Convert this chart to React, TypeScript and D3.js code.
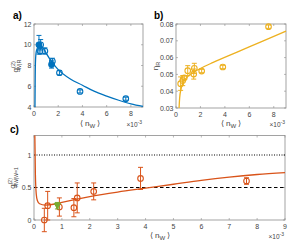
import React from "react";
import * as d3 from "d3";

// Panel a data: <n_W> (x1e-3), g2 W|R, error
const aX = [0.41, 0.55, 0.5, 0.9, 1.45, 1.52, 2.1, 3.8, 7.58];
const aY = [10.0, 10.0, 9.4, 9.4, 8.1, 8.4, 7.3, 5.5, 4.8];
const aE = [0.9, 0.5, 0.3, 0.3, 0.35, 0.3, 0.2, 0.15, 0.15];
const aFilled = [true, false, false, false, true, false, false, false, false];
const aCurveX = [0.08, 0.1, 0.13, 0.18, 0.25, 0.4, 0.55, 0.8, 1.0, 1.5, 2.0, 3.0, 4.0, 5.0, 6.0, 7.0, 8.0, 9.0];
const aCurveY = [4.0, 7.0, 8.6, 9.3, 9.6, 9.85, 9.9, 9.6, 9.2, 8.3, 7.6, 6.7, 6.1, 5.5, 5.05, 4.65, 4.3, 4.05];

// Panel b data: eta_R
const bX = [0.38, 0.55, 0.68, 0.96, 1.45, 1.5, 2.1, 3.83, 7.57];
const bY = [0.0445, 0.0463, 0.048, 0.0522, 0.0502, 0.0536, 0.052, 0.0544, 0.0784];
const bE = [0.004, 0.003, 0.001, 0.003, 0.003, 0.003, 0.001, 0.001, 0.001];
const bCurveX = [0.25, 0.3, 0.4, 0.5, 0.7, 1.0, 1.5, 2.0, 3.0, 5.0, 7.0, 9.0];
const bCurveY = [0.03, 0.036, 0.041, 0.0435, 0.0465, 0.049, 0.0515, 0.0535, 0.057, 0.0633, 0.0695, 0.0758];

// Panel c data: g2 RW|W=1
const cX = [0.37, 0.49, 0.91, 1.43, 1.55, 2.14, 3.82, 7.62];
const cY = [0.0, 0.22, 0.2, 0.19, 0.34, 0.44, 0.64, 0.6];
const cE = [0.18, 0.22, 0.14, 0.14, 0.23, 0.13, 0.17, 0.05];
const cGreenX = [0.84];
const cGreenY = [0.22];
const cGreenE = [0.05];
const cCurveX = [0.03, 0.05, 0.08, 0.12, 0.2, 0.4, 0.8, 1.0, 2.0, 3.0, 4.0, 5.0, 6.0, 7.0, 8.0, 9.0];
const cCurveY = [1.35, 0.7, 0.4, 0.3, 0.25, 0.23, 0.25, 0.27, 0.36, 0.43, 0.49, 0.55, 0.61, 0.66, 0.7, 0.73];

const aXTicks = [0, 2, 4, 6, 8];
const aYTicks = [4, 6, 8, 10, 12];
const bYTicks = [0.03, 0.04, 0.05, 0.06, 0.07, 0.08];
const cXTicks = [0, 1, 2, 3, 4, 5, 6, 7, 8, 9];
const cYTicks = [0, 0.5, 1];

const BLUE = "#0072BD";
const YELLOW = "#EDB120";
const ORANGE = "#D95319";
const GREEN = "#77AC30";
const AXC = "#8c8c8c";
const TXT = "#444";
const FONT = "Liberation Sans, Arial, sans-serif";

type AxesProps = {
  x: d3.ScaleLinear<number, number>;
  y: d3.ScaleLinear<number, number>;
  xTicks: number[];
  yTicks: number[];
  yFmt?: (v: number) => string;
};

function Axes({ x, y, xTicks, yTicks, yFmt }: AxesProps) {
  const [x0, x1] = x.range();
  const [y0, y1] = y.range();
  const tl = 2;
  const f = yFmt || ((v: number) => String(v));
  return (
    <g>
      <rect x={x0} y={y1} width={x1 - x0} height={y0 - y1} fill="none" stroke={AXC} strokeWidth={0.8} />
      {xTicks.map((t) => (
        <g key={"x" + t}>
          <line x1={x(t)} x2={x(t)} y1={y0} y2={y0 - tl} stroke={AXC} strokeWidth={0.6} />
          <line x1={x(t)} x2={x(t)} y1={y1} y2={y1 + tl} stroke={AXC} strokeWidth={0.6} />
          <text x={x(t)} y={y0 + 9} fontSize={7} fill={TXT} textAnchor="middle" fontFamily={FONT}>{t}</text>
        </g>
      ))}
      {yTicks.map((t) => (
        <g key={"y" + t}>
          <line x1={x0} x2={x0 + tl} y1={y(t)} y2={y(t)} stroke={AXC} strokeWidth={0.6} />
          <line x1={x1} x2={x1 - tl} y1={y(t)} y2={y(t)} stroke={AXC} strokeWidth={0.6} />
          <text x={x0 - 2.5} y={y(t) + 2.5} fontSize={7} fill={TXT} textAnchor="end" fontFamily={FONT}>{f(t)}</text>
        </g>
      ))}
    </g>
  );
}

function ErrPoints({ xs, ys, es, x, y, color, filled, marker }: any) {
  return (
    <g>
      {xs.map((xv: number, i: number) => {
        const cx = x(xv);
        const cy = y(ys[i]);
        const top = y(ys[i] + es[i]);
        const bot = y(ys[i] - es[i]);
        const isF = filled ? filled[i] : false;
        return (
          <g key={i} stroke={color} strokeWidth={1}>
            <line x1={cx} x2={cx} y1={top} y2={bot} />
            <line x1={cx - 2.5} x2={cx + 2.5} y1={top} y2={top} />
            <line x1={cx - 2.5} x2={cx + 2.5} y1={bot} y2={bot} />
            {marker === "tri" ? (
              <path d={`M${cx},${cy + 3.2} L${cx - 3.2},${cy - 2.4} L${cx + 3.2},${cy - 2.4} Z`} fill={color} />
            ) : (
              <circle cx={cx} cy={cy} r={2.8} fill={isF ? color : "none"} strokeWidth={1.1} />
            )}
          </g>
        );
      })}
    </g>
  );
}

function XLabel({ cx, cy, rx }: { cx: number; cy: number; rx: number }) {
  return (
    <g fontFamily={FONT} fill={TXT}>
      <text x={cx} y={cy} fontSize={8} textAnchor="middle">
        {"⟨ n"}
        <tspan fontSize={6} dy={2}>W</tspan>
        <tspan dy={-2}>{" ⟩"}</tspan>
      </text>
      <text x={rx} y={cy + 1} fontSize={6.5} textAnchor="end">
        {"×10"}
        <tspan fontSize={5} dy={-3}>-3</tspan>
      </text>
    </g>
  );
}

export default function App() {
  // Panel a
  const ax = d3.scaleLinear().domain([0, 9]).range([34, 143]);
  const ay = d3.scaleLinear().domain([4, 12]).range([107, 24]);
  const aPath = d3
    .line<number>()
    .x((d) => ax(aCurveX[d]))
    .y((d) => ay(aCurveY[d]))
    .curve(d3.curveMonotoneX)(aCurveX.map((_, i) => i));

  // Panel b
  const bx = d3.scaleLinear().domain([0, 9]).range([176, 286]);
  const by = d3.scaleLinear().domain([0.03, 0.08]).range([108, 24]);
  const bPath = d3
    .line<number>()
    .x((d) => bx(bCurveX[d]))
    .y((d) => by(bCurveY[d]))
    .curve(d3.curveMonotoneX)(bCurveX.map((_, i) => i));

  // Panel c
  const cx = d3.scaleLinear().domain([0, 9]).range([34, 285]);
  const cy = d3.scaleLinear().domain([0, 1.3]).range([220, 135.5]);
  const cPath = d3
    .line<number>()
    .x((d) => cx(cCurveX[d]))
    .y((d) => cy(Math.min(cCurveY[d], 1.3)))
    .curve(d3.curveMonotoneX)(cCurveX.map((_, i) => i));

  return (
    <svg width={299} height={243} style={{ position: "absolute", left: 0, top: 0, background: "#fff" }}>
      {/* Panel a */}
      <text x={13} y={19} fontSize={10} fontWeight="bold" fontFamily={FONT} fill="#000">a)</text>
      <Axes x={ax} y={ay} xTicks={aXTicks} yTicks={aYTicks} />
      <path d={aPath || ""} fill="none" stroke={BLUE} strokeWidth={1.3} />
      <ErrPoints xs={aX} ys={aY} es={aE} x={ax} y={ay} color={BLUE} filled={aFilled} />
      <text transform={`translate(18,66) rotate(-90)`} fontSize={8} fontFamily={FONT} fill={TXT} textAnchor="middle">
        g<tspan fontSize={5.5} dy={-3}>(2)</tspan>
        <tspan fontSize={5.5} dx={-9} dy={5.5}>W|R</tspan>
      </text>
      <XLabel cx={90} cy={126} rx={142} />

      {/* Panel b */}
      <text x={154} y={19} fontSize={10} fontWeight="bold" fontFamily={FONT} fill="#000">b)</text>
      <Axes x={bx} y={by} xTicks={aXTicks} yTicks={bYTicks} yFmt={(v) => v.toFixed(2)} />
      <path d={bPath || ""} fill="none" stroke={YELLOW} strokeWidth={1.3} />
      <ErrPoints xs={bX} ys={bY} es={bE} x={bx} y={by} color={YELLOW} />
      <text transform={`translate(158,66) rotate(-90)`} fontSize={8} fontFamily={FONT} fill={TXT} textAnchor="middle">
        η<tspan fontSize={5.5} dy={2}>R</tspan>
      </text>
      <XLabel cx={231} cy={126} rx={285} />

      {/* Panel c */}
      <text x={10} y={133} fontSize={10} fontWeight="bold" fontFamily={FONT} fill="#000">c)</text>
      <Axes x={cx} y={cy} xTicks={cXTicks} yTicks={cYTicks} />
      <line x1={cx(0)} x2={cx(9)} y1={cy(1)} y2={cy(1)} stroke="#000" strokeWidth={1} strokeDasharray="1,1.5" />
      <line x1={cx(0)} x2={cx(9)} y1={cy(0.5)} y2={cy(0.5)} stroke="#000" strokeWidth={1.1} strokeDasharray="3.5,2.5" />
      <path d={cPath || ""} fill="none" stroke={ORANGE} strokeWidth={1.3} />
      <ErrPoints xs={cX} ys={cY} es={cE} x={cx} y={cy} color={ORANGE} />
      <ErrPoints xs={cGreenX} ys={cGreenY} es={cGreenE} x={cx} y={cy} color={GREEN} marker="tri" />
      <text transform={`translate(15,178) rotate(-90)`} fontSize={8} fontFamily={FONT} fill={TXT} textAnchor="middle">
        g<tspan fontSize={5} dy={-3}>(2)</tspan>
        <tspan fontSize={5} dx={-9} dy={5.5}>RW|W=1</tspan>
      </text>
      <XLabel cx={160} cy={238} rx={284} />
    </svg>
  );
}
